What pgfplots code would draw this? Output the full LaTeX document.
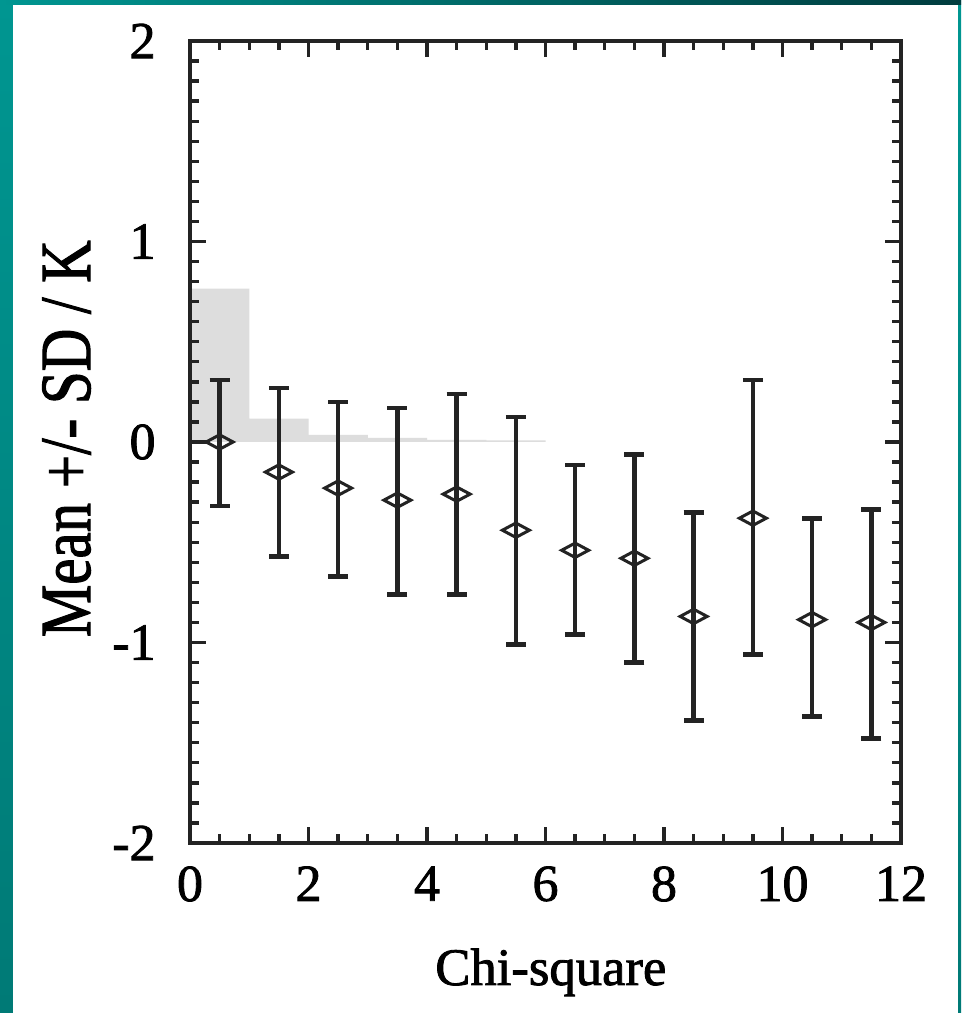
\documentclass[border=0pt]{standalone}
\usepackage{pgfplots}
\pgfplotsset{compat=1.18}
\usepackage{pgfplotstable}
\usepackage{fontspec}
\setmainfont{Liberation Serif}[FakeBold=1.6]
\usepackage{graphicx}
\definecolor{tealL}{RGB}{0,150,145}
\definecolor{tealB}{RGB}{0,122,118}
\definecolor{tealD}{RGB}{0,60,62}
\definecolor{histgray}{RGB}{221,221,221}
\definecolor{ink}{RGB}{35,35,35}
\pgfplotstableread{
x y top bot
0.5 0.00 0.31 -0.32
1.5 -0.15 0.27 -0.57
2.5 -0.23 0.20 -0.67
3.5 -0.29 0.17 -0.76
4.5 -0.26 0.24 -0.76
5.5 -0.44 0.125 -1.01
6.5 -0.54 -0.115 -0.96
7.5 -0.58 -0.063 -1.10
8.5 -0.87 -0.35 -1.39
9.5 -0.38 0.31 -1.06
10.5 -0.886 -0.38 -1.37
11.5 -0.90 -0.336 -1.48
}\means
\pgfplotstableread{
x h
0 0.765
1 0.116
2 0.035
3 0.02
4 0.01
5 0.008
6 0.008
}\hist
\begin{document}
\begin{tikzpicture}
\shade[top color=tealL,bottom color=tealB] (0,0) rectangle (288.3pt,303.9pt);
\shade[left color=tealL,right color=tealD] (0,302.4pt) rectangle (288.3pt,303.9pt);
\fill[white] (3.9pt,0) rectangle (287.4pt,302.4pt);
\begin{axis}[
  at={(57pt,51pt)}, anchor=south west, scale only axis,
  width=213.3pt, height=240.6pt,
  xmin=0, xmax=12, ymin=-2, ymax=2,
  xtick={0,2,...,12}, ytick={-2,-1,0,1,2},
  minor x tick num=3, minor y tick num=9,
  tick align=inside, major tick length=4.8pt, minor tick length=2.6pt,
  axis on top,
  axis line style={line width=1.3pt, ink},
  tick style={line width=1pt, ink},
  ticklabel style={font=\fontsize{15.6}{18}\selectfont, text=black},
  /pgf/number format/assume math mode=true,
  xticklabel style={yshift=-3.5pt},
  yticklabel style={xshift=-6.8pt},
  xlabel={Chi-square},
  ylabel={\scalebox{1}[1.22]{Mean +/- SD / K}},
  xlabel style={at={([xshift=1.6pt,yshift=-42.6pt]axis description cs:0.5,0)}, anchor=base, font=\fontsize{15.8}{18}\selectfont},
  ylabel style={at={([xshift=-30pt,yshift=1pt]axis description cs:0,0.5)}, anchor=base, font=\fontsize{17.7}{20}\selectfont},
]
\addplot[ybar interval, fill=histgray, draw=none] table[x=x,y=h] {\hist};
\addplot[ink, only marks, mark=diamond, mark size=5.4pt,
  mark options={solid, fill=none, line width=0.9pt, yscale=0.4},
  error bars/.cd, y dir=both, y explicit,
  error bar style={line width=1.3pt, ink},
  error mark options={rotate=90, mark size=3pt, line width=1.4pt, ink}]
  table[x=x, y=y, y error plus expr=\thisrow{top}-\thisrow{y}, y error minus expr=\thisrow{y}-\thisrow{bot}] {\means};
\end{axis}
\pgfresetboundingbox
\path (0,0) rectangle (288.3pt,303.9pt);
\end{tikzpicture}
\end{document}
